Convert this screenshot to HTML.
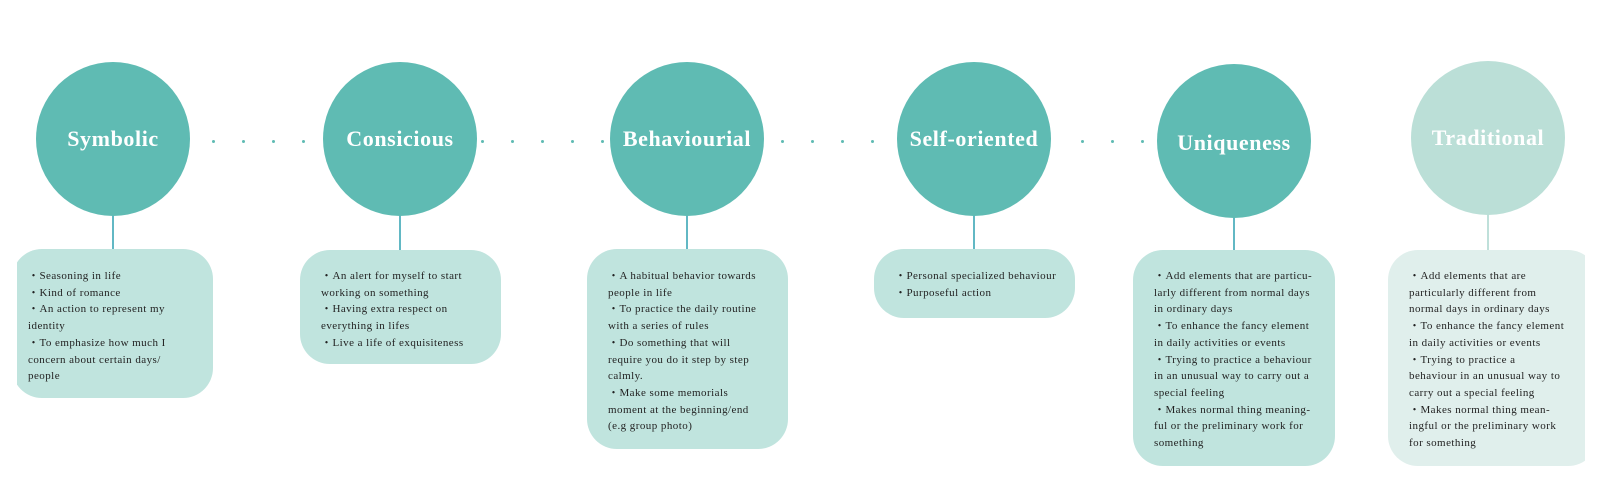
<!DOCTYPE html>
<html><head><meta charset="utf-8"><style>
html,body{margin:0;padding:0;background:#fff;}
#w{position:relative;width:1600px;height:499px;overflow:hidden;font-family:"Liberation Serif",serif;}
.c{position:absolute;width:154px;height:154px;border-radius:50%;background:#5fbbb3;color:#fff;font-weight:bold;font-size:22px;letter-spacing:0.6px;display:flex;align-items:center;justify-content:center;}
.l{position:absolute;width:1.5px;background:#62b8c4;}
.b{position:absolute;background:#c0e4de;border-radius:30px;box-sizing:border-box;padding:0 0 0 21px;font-size:11px;letter-spacing:0.45px;line-height:16.7px;color:#222;}
.d{position:absolute;width:3px;height:3px;border-radius:50%;background:#5fbbb3;top:139.5px;}
.t{position:absolute;top:268px;}
</style></head><body><div id="w">

<div class="l" style="left:112px;top:190px;height:60px"></div>
<div class="l" style="left:399px;top:190px;height:60px"></div>
<div class="l" style="left:686px;top:190px;height:60px"></div>
<div class="l" style="left:973px;top:190px;height:60px"></div>
<div class="l" style="left:1233px;top:190px;height:60px"></div>
<div class="l" style="left:1487px;top:190px;height:60px;background:#bfe0da"></div>

<div class="c" style="left:36px;top:62px">Symbolic</div>
<div class="c" style="left:323px;top:62px">Consicious</div>
<div class="c" style="left:610px;top:62px">Behaviourial</div>
<div class="c" style="left:897px;top:62px">Self-oriented</div>
<div class="c" style="left:1157px;top:64px;padding-top:4px;box-sizing:border-box">Uniqueness</div>
<div class="c" style="left:1411px;top:61px;background:#bbdfd7">Traditional</div>

<div class="d" style="left:212px"></div><div class="d" style="left:242px"></div><div class="d" style="left:272px"></div><div class="d" style="left:302px"></div>
<div class="d" style="left:481px"></div><div class="d" style="left:511px"></div><div class="d" style="left:541px"></div><div class="d" style="left:571px"></div><div class="d" style="left:601px"></div>
<div class="d" style="left:781px"></div><div class="d" style="left:811px"></div><div class="d" style="left:841px"></div><div class="d" style="left:871px"></div>
<div class="d" style="left:1081px"></div><div class="d" style="left:1111px"></div><div class="d" style="left:1141px"></div>

<div style="position:absolute;left:17px;top:249px;width:200px;height:150px;overflow:hidden">
<div class="b" style="left:-5px;top:0;width:201px;height:149px;padding-left:21px"><div class="t" style="top:19px;left:16px">・Seasoning in life<br>・Kind of romance<br>・An action to represent my<br>identity<br>・To emphasize how much I<br>concern about certain days/<br>people</div></div></div>

<div class="b" style="left:300px;top:250px;width:201px;height:114px"><div class="t" style="top:18px;left:21px">・An alert for myself to start<br>working on something<br>・Having extra respect on<br>everything in lifes<br>・Live a life of exquisiteness</div></div>

<div class="b" style="left:587px;top:249px;width:201px;height:200px"><div class="t" style="top:19px;left:21px">・A habitual behavior towards<br>people in life<br>・To practice the daily routine<br>with a series of rules<br>・Do something that will<br>require you do it step by step<br>calmly.<br>・Make some memorials<br>moment at the beginning/end<br>(e.g group photo)</div></div>

<div class="b" style="left:874px;top:249px;width:201px;height:69px"><div class="t" style="top:19px;left:21px">・Personal specialized behaviour<br>・Purposeful action</div></div>

<div class="b" style="left:1133px;top:250px;width:202px;height:216px"><div class="t" style="top:18px;left:21px">・Add elements that are particu-<br>larly different from normal days<br>in ordinary days<br>・To enhance the fancy element<br>in daily activities or events<br>・Trying to practice a behaviour<br>in an unusual way to carry out a<br>special feeling<br>・Makes normal thing meaning-<br>ful or the preliminary work for<br>something</div></div>

<div style="position:absolute;left:1388px;top:250px;width:197px;height:217px;overflow:hidden">
<div class="b" style="left:0;top:0;width:210px;height:216px;background:#e0efec"><div class="t" style="top:18px;left:21px">・Add elements that are<br>particularly different from<br>normal days in ordinary days<br>・To enhance the fancy element<br>in daily activities or events<br>・Trying to practice a<br>behaviour in an unusual way to<br>carry out a special feeling<br>・Makes normal thing mean-<br>ingful or the preliminary work<br>for something</div></div></div>

</div></body></html>
